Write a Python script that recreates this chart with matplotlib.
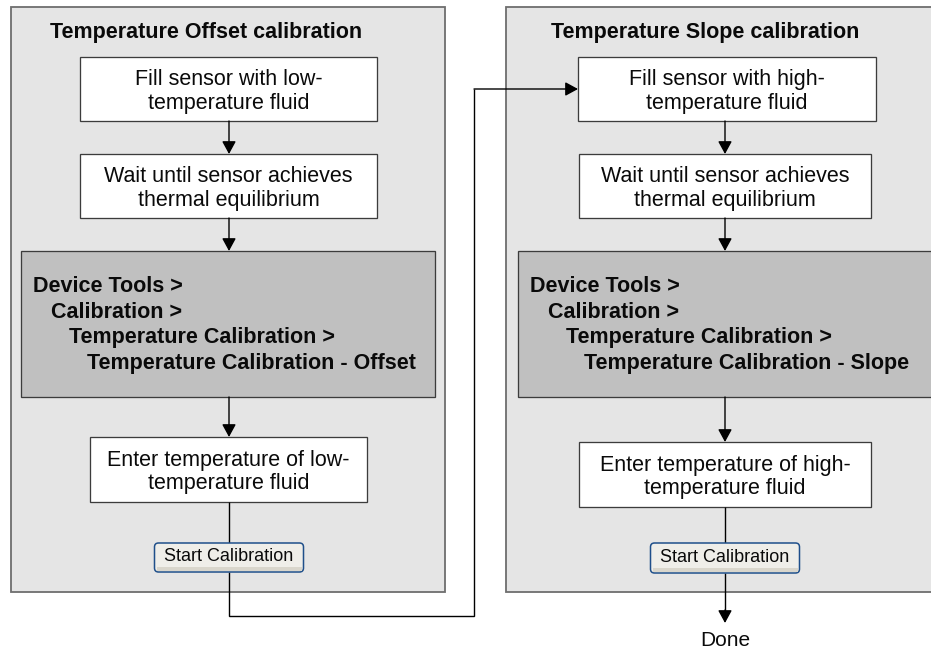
import matplotlib
matplotlib.use("Agg")
import matplotlib.pyplot as plt
from matplotlib.patches import Rectangle, FancyBboxPatch

# ---- content ----
panel_titles = ["Temperature Offset calibration", "Temperature Slope calibration"]
step1_texts = ["Fill sensor with low-\ntemperature fluid", "Fill sensor with high-\ntemperature fluid"]
step2_texts = ["Wait until sensor achieves\nthermal equilibrium", "Wait until sensor achieves\nthermal equilibrium"]
menu_paths = [
    ["Device Tools >", "Calibration >", "Temperature Calibration >", "Temperature Calibration - Offset"],
    ["Device Tools >", "Calibration >", "Temperature Calibration >", "Temperature Calibration - Slope"],
]
step3_texts = ["Enter temperature of low-\ntemperature fluid", "Enter temperature of high-\ntemperature fluid"]
button_label = "Start Calibration"
done_label = "Done"

# ---- layout (pixel units, y downward) ----
W, H = 931, 648
FONT = "Liberation Sans"
px = 0.72  # 1 px in points at dpi 100

fig = plt.figure(figsize=(W / 100, H / 100), dpi=100)
ax = fig.add_axes([0, 0, 1, 1])
ax.set_xlim(0, W)
ax.set_ylim(H, 0)
ax.axis("off")

PANEL_FILL = "#e5e5e5"
PANEL_EDGE = "#6f6f6f"
BOX_EDGE = "#3c3c3c"
DARK_FILL = "#c0c0c0"
TXT = "#0a0a0a"


def rect(x0, y0, x1, y1, fc, ec, lw=1.0, z=1):
    ax.add_patch(Rectangle((x0, y0), x1 - x0, y1 - y0, facecolor=fc,
                           edgecolor=ec, linewidth=lw * px * 1.3, zorder=z))


def arrow(x0, y0, x1, y1):
    ax.annotate("", xy=(x1, y1), xytext=(x0, y0),
                arrowprops=dict(arrowstyle="-|>,head_length=0.55,head_width=0.3",
                                mutation_scale=14, color="black", lw=1.0,
                                shrinkA=0, shrinkB=0), zorder=5)


def line(xs, ys):
    ax.plot(xs, ys, color="black", lw=1.0, zorder=4, solid_capstyle="butt",
            solid_joinstyle="miter")


def textbox(x0, y0, x1, y1, s):
    rect(x0, y0, x1, y1, "white", BOX_EDGE, z=3)
    ax.text((x0 + x1) / 2, (y0 + y1) / 2 + 2.5, s, ha="center", va="center",
            fontsize=15.5, family=FONT, color=TXT, linespacing=1.18, zorder=6)


def button(cx, y0, y1, w):
    x0 = cx - w / 2
    ax.add_patch(FancyBboxPatch((x0, y0), w, y1 - y0,
                                boxstyle="round,pad=0,rounding_size=4",
                                facecolor="#efeee9", edgecolor="#1f4f8a",
                                linewidth=1.1, zorder=6))
    ax.add_patch(Rectangle((x0 + 2, y1 - 5), w - 4, 3.5, facecolor="#d9d6cc",
                           edgecolor="none", zorder=6.5))
    ax.text(cx, (y0 + y1) / 2 - 1, button_label, ha="center", va="center",
            fontsize=13, family=FONT, color=TXT, zorder=7)


# panel geometry
panels = [
    dict(px0=11, px1=445, cx=229, tx=206.5,
         b1=(80, 57, 377, 121), b2=(80, 154, 377, 218),
         dk=(21, 251, 435, 397), dtx=33,
         b3=(90, 437, 367, 502), btn=(543, 572), btnw=149),
    dict(px0=506, px1=960, cx=725, tx=705,
         b1=(578, 57, 876, 121), b2=(579, 154, 871, 218),
         dk=(518, 251, 960, 397), dtx=530,
         b3=(579, 442, 871, 507), btn=(543, 573), btnw=149),
]

for i, p in enumerate(panels):
    rect(p["px0"], 7, p["px1"], 592, PANEL_FILL, PANEL_EDGE, lw=1.4, z=1)
    ax.text(p["tx"], 38, panel_titles[i], ha="center", va="baseline",
            fontsize=15.5, family=FONT, fontweight="bold", color=TXT, zorder=6)
    textbox(*p["b1"], step1_texts[i])
    textbox(*p["b2"], step2_texts[i])
    cx = p["cx"]
    arrow(cx, p["b1"][3], cx, p["b2"][1])
    arrow(cx, p["b2"][3], cx, p["dk"][1])
    rect(*p["dk"], DARK_FILL, BOX_EDGE, z=3)
    for k, s in enumerate(menu_paths[i]):
        ax.text(p["dtx"] + 18 * k, 292 + 25.7 * k, s, ha="left", va="baseline",
                fontsize=15.5, family=FONT, fontweight="bold", color=TXT, zorder=6)
    arrow(cx, p["dk"][3], cx, p["b3"][1])
    textbox(*p["b3"], step3_texts[i])
    line([cx, cx], [p["b3"][3], p["btn"][0]])
    button(cx, p["btn"][0], p["btn"][1], p["btnw"])

# connector from left panel to right panel
L, R = panels
line([L["cx"], L["cx"], 474, 474], [L["btn"][1], 616, 616, 89])
arrow(474, 89, R["b1"][0], 89)

# final arrow to Done
line([R["cx"], R["cx"]], [R["btn"][1], 612])
arrow(R["cx"], 610, R["cx"], 623)
ax.text(R["cx"], 640, done_label, ha="center", va="center", fontsize=15,
        family=FONT, color=TXT)

fig.savefig("out.png", dpi=100)
